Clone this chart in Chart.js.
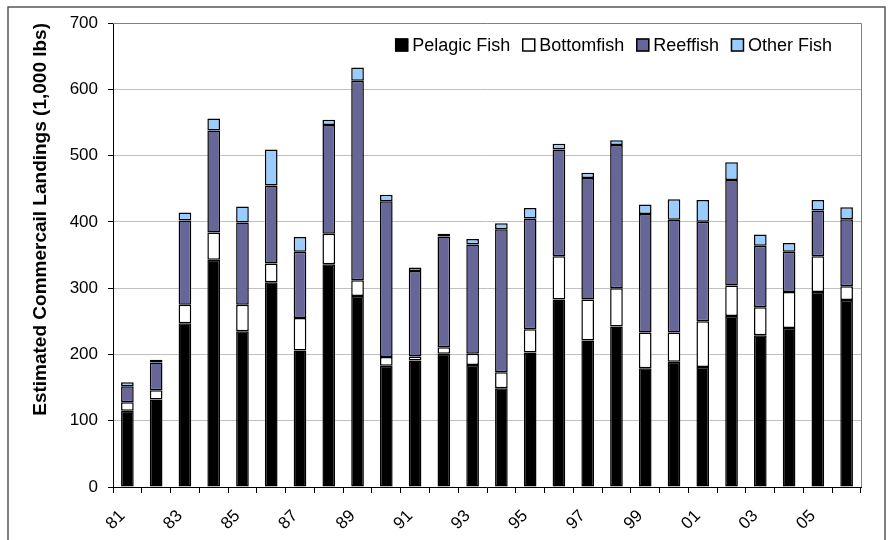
<!DOCTYPE html>
<html>
<head>
<meta charset="utf-8">
<script src="https://cdn.jsdelivr.net/npm/chart.js@4/dist/chart.umd.min.js"></script>
<style>
  html, body { margin: 0; padding: 0; background: #fff; }
  #wrap { width: 888px; height: 540px; }
</style>
</head>
<body>
<div id="wrap"><canvas id="landings" width="888" height="540"></canvas></div>
<script>
// Landings by year, 1,000 lbs
const years = ['81', '82', '83', '84', '85', '86', '87', '88', '89', '90', '91', '92', '93',
               '94', '95', '96', '97', '98', '99', '00', '01', '02', '03', '04', '05', '06'];
const pelagicFish = [115, 132, 247, 343, 235, 309, 206, 336, 288, 183, 191, 201, 184,
                     149, 203, 283, 221, 242, 179, 189, 181, 258, 229, 240, 294, 282];
const bottomfish  = [13, 14, 28, 41, 40, 28, 49, 46, 24, 13, 6, 10, 17,
                     24, 35, 65, 62, 58, 54, 44, 69, 46, 42, 54, 54, 21];
const reeffish    = [24, 42, 127, 154, 124, 118, 100, 164, 301, 235, 129, 167, 165,
                     216, 167, 161, 183, 216, 179, 170, 150, 159, 93, 61, 69, 101];
const otherFish   = [6, 4, 12, 18, 24, 54, 22, 8, 20, 10, 5, 4, 8,
                     9, 16, 9, 8, 7, 14, 31, 33, 27, 17, 13, 16, 18];
const yTicks = [0, 100, 200, 300, 400, 500, 600, 700];

const FONT = "'Liberation Sans', Arial, sans-serif";

function series(label, data, color) {
    return {
        label: label,
        data: data,
        backgroundColor: color,
        borderColor: '#000',
        borderWidth: 1.5,
        borderSkipped: false,
        categoryPercentage: 1.0,
        barPercentage: 0.44
    };
}

// outer frame + plot border
const framePlugin = {
    id: 'frame',
    beforeDraw(c) {
        const ctx = c.ctx;
        ctx.save();
        ctx.fillStyle = '#fff';
        ctx.fillRect(0, 0, c.width, c.height);
        ctx.strokeStyle = '#555';
        ctx.lineWidth = 1.5;
        ctx.strokeRect(8, 7, 877, 560);
        ctx.restore();
    },
    beforeDatasetsDraw(c) {
        const a = c.chartArea, ctx = c.ctx;
        ctx.save();
        ctx.strokeStyle = '#808080';
        ctx.lineWidth = 1;
        ctx.beginPath();
        ctx.moveTo(a.left, a.top + 0.5);
        ctx.lineTo(a.right + 0.5, a.top + 0.5);
        ctx.lineTo(a.right + 0.5, a.bottom);
        ctx.stroke();
        ctx.restore();
    }
};

// legend drawn inside the plot, top right
const legendPlugin = {
    id: 'insideLegend',
    afterDatasetsDraw(c) {
        const ctx = c.ctx, a = c.chartArea;
        const box = 13, gap = 4, space = 12;
        ctx.save();
        ctx.font = '18px ' + FONT;
        ctx.textBaseline = 'middle';
        const items = c.data.datasets.map(d => ({ label: d.label, color: d.backgroundColor, w: ctx.measureText(d.label).width }));
        let total = 0;
        items.forEach((it, i) => { total += box + gap + it.w + (i < items.length - 1 ? space : 0); });
        let x = a.right - 29 - total;
        const y = a.top + 22;
        items.forEach(it => {
            ctx.fillStyle = it.color;
            ctx.fillRect(x, y - box / 2, box, box);
            ctx.strokeStyle = '#000';
            ctx.lineWidth = 1.5;
            ctx.strokeRect(x + 0.5, y - box / 2 + 0.5, box - 1, box - 1);
            ctx.fillStyle = '#000';
            ctx.fillText(it.label, x + box + gap, y + 1);
            x += box + gap + it.w + space;
        });
        ctx.restore();
    }
};

new Chart(document.getElementById('landings'), {
    type: 'bar',
    data: {
        labels: years,
        datasets: [
            series('Pelagic Fish', pelagicFish, '#000000'),
            series('Bottomfish', bottomfish, '#ffffff'),
            series('Reeffish', reeffish, '#666699'),
            series('Other Fish', otherFish, '#99ccff')
        ]
    },
    options: {
        responsive: false,
        devicePixelRatio: 1,
        animation: false,
        layout: { padding: { left: 0, top: 23, right: 27, bottom: 0 } },
        plugins: {
            legend: { display: false },
            tooltip: { enabled: false }
        },
        scales: {
            x: {
                stacked: true,
                offset: true,
                grid: { offset: true, drawOnChartArea: false, drawTicks: true, tickLength: 6, tickColor: '#000', color: '#000' },
                border: { color: '#000', width: 1 },
                ticks: {
                    autoSkip: false,
                    maxRotation: 45,
                    minRotation: 45,
                    padding: 13,
                    labelOffset: -5,
                    color: '#000',
                    font: { family: FONT, size: 17 },
                    callback: (v, i) => (i % 2 === 0 ? years[i] : '')
                },
                afterFit: s => { s.height = 53; }
            },
            y: {
                stacked: true,
                min: 0,
                max: 700,
                afterBuildTicks: s => { s.ticks = yTicks.map(v => ({ value: v })); },
                grid: { color: '#c0c0c0', tickColor: '#000', tickLength: 5, lineWidth: 1 },
                border: { color: '#000', width: 1 },
                ticks: { padding: 10, color: '#000', font: { family: FONT, size: 17 } },
                title: {
                    display: true,
                    text: 'Estimated Commercail Landings (1,000 lbs)',
                    align: 'end',
                    color: '#000',
                    font: { family: FONT, size: 19, weight: 'bold' },
                    padding: { top: 29, bottom: 0 }
                },
                afterFit: s => { s.width = 113; }
            }
        }
    },
    plugins: [framePlugin, legendPlugin]
});
</script>
</body>
</html>
